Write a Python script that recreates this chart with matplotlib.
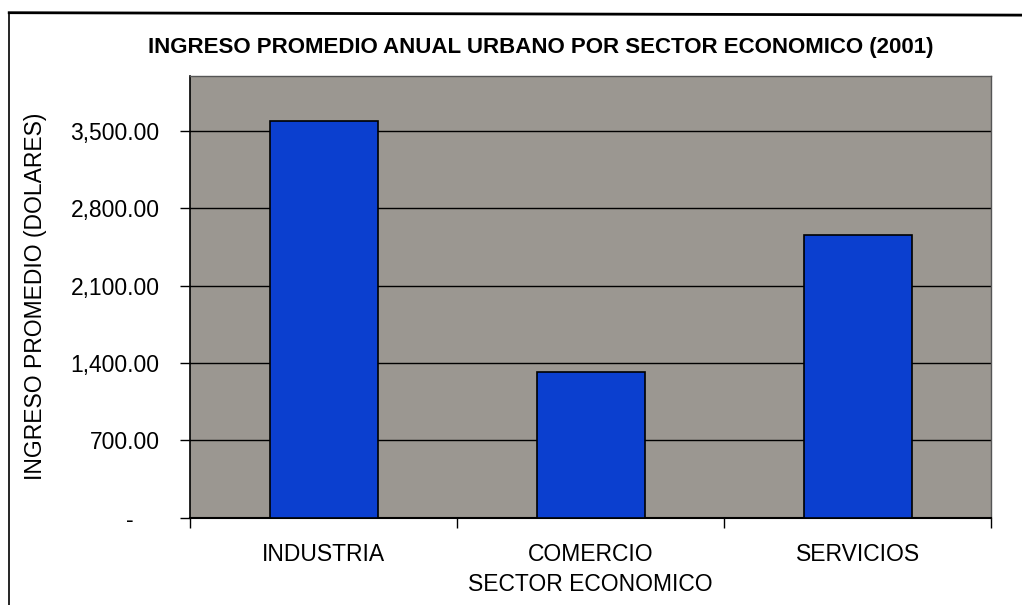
import matplotlib.pyplot as plt
from matplotlib import font_manager
from matplotlib.lines import Line2D
import numpy as np

plt.rcParams["font.family"] = ["Liberation Sans", "DejaVu Sans"]

# Data
sectores = ["INDUSTRIA", "COMERCIO", "SERVICIOS"]
ingreso = [3590, 1320, 2560]
yticks = [0, 700, 1400, 2100, 2800, 3500]
ytick_labels = ["-    ", "700.00", "1,400.00", "2,100.00", "2,800.00", "3,500.00"]

names = {f.name for f in font_manager.fontManager.ttflist}
title_family = "Liberation Sans Narrow" if "Liberation Sans Narrow" in names else "Liberation Sans"

fig = plt.figure(figsize=(10.22, 6.05), dpi=100)
ax = fig.add_axes([0.186, 0.144, 0.784, 0.731])
ax.set_facecolor("#9b9791")

x = np.arange(len(sectores))
ax.bar(x, ingreso, width=0.405, color="#0b3fcf", edgecolor="black",
       linewidth=1.2, zorder=3)

ax.set_xlim(-0.5, len(sectores) - 0.5)
ax.set_ylim(0, 4000)
ax.set_yticks(yticks)
ax.set_yticklabels(ytick_labels)
ax.yaxis.grid(True, color="black", linewidth=1.0, zorder=1)
ax.set_axisbelow(True)

# category labels between boundary ticks, Excel style
ax.set_xticks(x)
ax.set_xticklabels(sectores)
ax.tick_params(axis="x", length=0, pad=18, labelsize=16.5)
ax.set_xticks(np.arange(len(sectores) + 1) - 0.5, minor=True)
ax.tick_params(axis="x", which="minor", length=7, width=1, direction="out")
ax.tick_params(axis="y", length=7, width=1, direction="out", pad=15, labelsize=16.5)

for side in ["top", "right"]:
    ax.spines[side].set_color("#555555")
    ax.spines[side].set_linewidth(1)
ax.spines["left"].set_linewidth(1.2)
ax.spines["bottom"].set_linewidth(1.5)

ax.set_ylabel("INGRESO PROMEDIO (DOLARES)", fontsize=16.5, labelpad=17)
ax.set_xlabel("SECTOR ECONOMICO", fontsize=16.5, labelpad=5)

fig.text(0.529, 0.922, "INGRESO PROMEDIO ANUAL URBANO POR SECTOR ECONOMICO (2001)",
         ha="center", va="center", fontsize=16, fontweight="bold",
         family=title_family)

# frame of the scanned chart
fig.add_artist(Line2D([0.009, 1.0], [0.979, 0.975], color="black", linewidth=2,
                      transform=fig.transFigure))
fig.add_artist(Line2D([0.009, 0.009], [0.979, 0.0], color="black", linewidth=1.2,
                      transform=fig.transFigure))

fig.savefig("out.png", dpi=100, facecolor="white")
